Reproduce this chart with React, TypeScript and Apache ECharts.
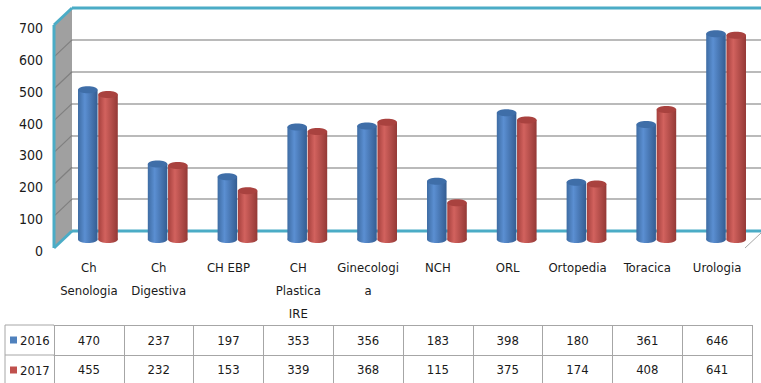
import React, { useEffect, useRef } from "react";
import * as echarts from "echarts";

const categories = ["Ch Senologia", "Ch Digestiva", "CH EBP", "CH Plastica IRE", "Ginecologia", "NCH", "ORL", "Ortopedia", "Toracica", "Urologia"];
const categoryLabels = ["Ch\nSenologia", "Ch\nDigestiva", "CH EBP", "CH\nPlastica\nIRE", "Ginecologi\na", "NCH", "ORL", "Ortopedia", "Toracica", "Urologia"];
const seriesNames = ["2016", "2017"];
const values2016 = [470, 237, 197, 353, 356, 183, 398, 180, 361, 646];
const values2017 = [455, 232, 153, 339, 368, 115, 375, 174, 408, 641];
const yTicks = [0, 100, 200, 300, 400, 500, 600, 700];

const FONT = "'Liberation Sans Narrow', 'DejaVu Sans Condensed', 'Open Sans', sans-serif";
const FS = 13;
const TXT = "#1a1a1a";
const CYAN = "#4bacc6";
const GRID_GRAY = "#a3a3a3";
const TABLE_GRAY = "#a6a6a6";

function cylinder(colors: { l: string; m: string; r: string; top: string }, side: number) {
  return (params: any, api: any) => {
    const idx = api.value(0);
    const val = api.value(1);
    const top = api.coord([idx, val]);
    const bot = api.coord([idx, 0]);
    const band = api.size([1, 0])[0];
    const w = band * 0.28;
    const cx = top[0] + side * band * 0.145;
    const ry = 3.5;
    const grad = new echarts.graphic.LinearGradient(0, 0, 1, 0, [
      { offset: 0, color: colors.l },
      { offset: 0.35, color: colors.m },
      { offset: 1, color: colors.r },
    ]);
    return {
      type: "group",
      children: [
        { type: "ellipse", shape: { cx, cy: bot[1], rx: w / 2, ry }, style: { fill: grad } },
        { type: "rect", shape: { x: cx - w / 2, y: top[1], width: w, height: bot[1] - top[1] }, style: { fill: grad } },
        { type: "ellipse", shape: { cx, cy: top[1], rx: w / 2, ry }, style: { fill: colors.top } },
      ],
    };
  };
}

export default function App() {
  const ref = useRef<HTMLDivElement>(null);
  useEffect(() => {
    if (!ref.current) return;
    const chart = echarts.init(ref.current, undefined, { renderer: "svg" });

    const fx = 54, bx = 72, fBottom = 248, bBottom = 231, span = 223;
    const wallLines: any[] = yTicks.slice(1, -1).map((t) => {
      const d = (t / 700) * span;
      return {
        type: "line", z: 2,
        shape: { x1: fx, y1: fBottom - d, x2: bx, y2: bBottom - d },
        style: { stroke: "#7f7f7f", lineWidth: 1.2 },
      };
    });

    const graphic: any[] = [
      {
        type: "polygon", z: 1,
        shape: { points: [[fx, fBottom - span], [bx, bBottom - span], [bx, bBottom], [fx, fBottom]] },
        style: { fill: "#a0a0a0" },
      },
      ...wallLines,
      { type: "line", z: 5, shape: { x1: fx, y1: fBottom - span, x2: fx, y2: fBottom }, style: { stroke: CYAN, lineWidth: 3 } },
      { type: "line", z: 5, shape: { x1: fx, y1: fBottom - span, x2: bx, y2: bBottom - span }, style: { stroke: CYAN, lineWidth: 3 } },
      { type: "line", z: 5, shape: { x1: fx, y1: fBottom, x2: bx, y2: bBottom }, style: { stroke: CYAN, lineWidth: 3 } },
      { type: "line", z: 5, shape: { x1: bx, y1: bBottom - span, x2: 761, y2: bBottom - span }, style: { stroke: CYAN, lineWidth: 3 } },
      { type: "line", z: 5, shape: { x1: bx, y1: bBottom, x2: 761, y2: bBottom }, style: { stroke: CYAN, lineWidth: 3 } },
      { type: "line", z: 5, shape: { x1: 745, y1: fBottom, x2: 761, y2: 233 }, style: { stroke: TABLE_GRAY, lineWidth: 1 } },
      { type: "line", z: 5, shape: { x1: 5, y1: 325, x2: 54, y2: 325 }, style: { stroke: TABLE_GRAY, lineWidth: 1 } },
      { type: "line", z: 5, shape: { x1: 5, y1: 355, x2: 54, y2: 355 }, style: { stroke: TABLE_GRAY, lineWidth: 1 } },
      { type: "line", z: 5, shape: { x1: 5, y1: 325, x2: 5, y2: 383 }, style: { stroke: TABLE_GRAY, lineWidth: 1 } },
    ];

    const hiddenCat = (gridIndex: number) => ({ type: "category", gridIndex, data: categories, show: false });

    chart.setOption({
      animation: false,
      textStyle: { fontFamily: FONT },
      graphic: { elements: graphic },
      grid: [
        { left: bx, top: bBottom - span, width: 761 - bx, height: span },
        { left: fx, top: fBottom - span + 3, width: 10, height: span },
        { left: 63, top: 239.5 - span, width: 698, height: span },
        { left: 54, top: 248, width: 698, height: 135 },
      ],
      legend: {
        data: seriesNames,
        orient: "vertical",
        left: 10,
        top: 332,
        padding: 0,
        itemWidth: 7,
        itemHeight: 7,
        itemGap: 14,
        icon: "rect",
        selectedMode: false,
        textStyle: { fontFamily: FONT, fontSize: FS, color: TXT, lineHeight: 16, padding: [0, 0, 0, -2] },
      },
      xAxis: [
        hiddenCat(0),
        hiddenCat(1),
        hiddenCat(2),
        {
          type: "category", gridIndex: 3, data: categoryLabels, position: "bottom", offset: -135,
          axisLine: { lineStyle: { color: TABLE_GRAY, width: 1 } },
          axisTick: { show: true, length: 77, lineStyle: { color: TABLE_GRAY } },
          axisLabel: { interval: 0, margin: 8, lineHeight: 23, fontSize: FS, color: TXT, fontFamily: FONT, hideOverlap: false },
        },
        {
          type: "category", gridIndex: 3, data: values2016.map(String), position: "bottom", offset: -58,
          axisLine: { lineStyle: { color: TABLE_GRAY, width: 1 } },
          axisTick: { show: true, length: 30, lineStyle: { color: TABLE_GRAY } },
          axisLabel: { interval: 0, margin: 7, lineHeight: 16, fontSize: FS, color: TXT, fontFamily: FONT },
        },
        {
          type: "category", gridIndex: 3, data: values2017.map(String), position: "bottom", offset: -28,
          axisLine: { lineStyle: { color: TABLE_GRAY, width: 1 } },
          axisTick: { show: true, length: 28, lineStyle: { color: TABLE_GRAY } },
          axisLabel: { interval: 0, margin: 6, lineHeight: 16, fontSize: FS, color: TXT, fontFamily: FONT },
        },
      ],
      yAxis: [
        {
          type: "value", gridIndex: 0, min: 0, max: 700, interval: 100,
          axisLabel: { show: false }, axisLine: { show: false }, axisTick: { show: false },
          splitLine: { show: true, lineStyle: { color: GRID_GRAY, width: 1.5 } },
        },
        {
          type: "value", gridIndex: 1, min: 0, max: 700, interval: 100,
          axisLine: { show: false }, axisTick: { show: false }, splitLine: { show: false },
          axisLabel: { margin: 11, fontSize: 14, color: TXT, fontFamily: FONT },
        },
        { type: "value", gridIndex: 2, min: 0, max: 700, show: false },
        { type: "value", gridIndex: 3, show: false },
      ],
      series: [
        {
          name: seriesNames[0], type: "custom", xAxisIndex: 2, yAxisIndex: 2, z: 10,
          itemStyle: { color: "#4f81bd" },
          data: values2016.map((v, i) => [i, v]),
          encode: { x: 0, y: 1 },
          renderItem: cylinder({ l: "#3e6ca3", m: "#5b8fd2", r: "#345d92", top: "#3f6ea8" }, -1),
        },
        {
          name: seriesNames[1], type: "custom", xAxisIndex: 2, yAxisIndex: 2, z: 10,
          itemStyle: { color: "#c0504d" },
          data: values2017.map((v, i) => [i, v]),
          encode: { x: 0, y: 1 },
          renderItem: cylinder({ l: "#a5403d", m: "#d2625e", r: "#943936", top: "#a9423f" }, 1),
        },
      ],
    });
    return () => chart.dispose();
  }, []);
  return <div ref={ref} style={{ position: "fixed", left: 0, top: 0, width: 761, height: 383, background: "#fff" }} />;
}
